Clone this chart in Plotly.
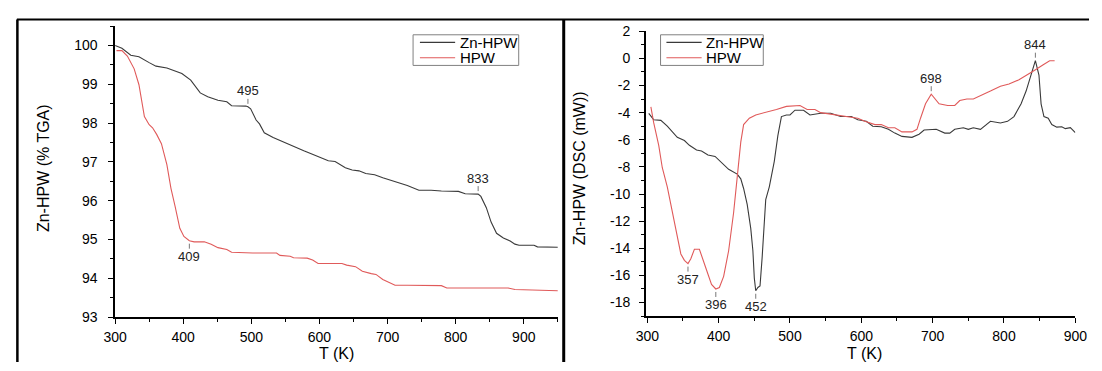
import numpy as np
import plotly.graph_objects as go

W, H = 1102, 371

series_names = ["Zn-HPW", "HPW"]
line_colors = ["#3a3a3a", "#e05a5a"]

# TGA curves: temperature (K) and residual mass (%)
tga_zn_T = [300, 310, 323, 335, 350, 360, 376, 391, 398, 411, 425, 436, 451, 464, 471,
            492, 495, 499, 507, 512, 519, 532, 552, 562, 577, 587, 603, 613, 623, 638,
            648, 658, 668, 681, 693, 708, 729, 746, 764, 779, 804, 814, 833, 837, 845,
            852, 860, 870, 880, 887, 893, 915, 920, 950]
tga_zn_w = [100.0, 99.93, 99.75, 99.71, 99.56, 99.47, 99.42, 99.32, 99.28, 99.11, 98.78,
            98.68, 98.59, 98.55, 98.45, 98.44, 98.42, 98.37, 98.08, 97.98, 97.75, 97.63,
            97.47, 97.41, 97.29, 97.22, 97.11, 97.03, 97.01, 96.85, 96.79, 96.77, 96.70,
            96.67, 96.59, 96.51, 96.39, 96.27, 96.27, 96.25, 96.24, 96.18, 96.17, 96.11,
            95.82, 95.45, 95.16, 95.04, 94.96, 94.88, 94.85, 94.85, 94.81, 94.80]

tga_hpw_T = [302, 310, 318, 328, 335, 343, 350, 355, 361, 368, 376, 382, 388, 395, 401,
             409, 416, 431, 441, 451, 464, 471, 502, 537, 542, 557, 562, 582, 590, 598,
             633, 640, 653, 663, 676, 683, 693, 703, 711, 729, 779, 787, 877, 887, 905, 950]
tga_hpw_w = [99.87, 99.87, 99.73, 99.40, 98.99, 98.17, 97.96, 97.88, 97.71, 97.47, 96.93,
             96.32, 95.86, 95.29, 95.08, 94.97, 94.94, 94.94, 94.88, 94.79, 94.74, 94.67,
             94.65, 94.65, 94.59, 94.57, 94.53, 94.52, 94.47, 94.38, 94.38, 94.34, 94.30,
             94.18, 94.12, 94.10, 93.97, 93.89, 93.82, 93.82, 93.81, 93.75, 93.75, 93.71,
             93.70, 93.68]

# DSC curves: temperature (K) and heat flow (mW)
dsc_zn_T = [302, 309, 319, 328, 342, 352, 359, 369, 376, 385, 395, 404, 414, 426, 431,
            435, 440, 445, 448, 450, 452, 455, 458, 461, 466, 471, 478, 483, 488, 495,
            500, 507, 519, 528, 543, 557, 571, 586, 595, 607, 616, 628, 638, 647, 657,
            671, 681, 688, 698, 705, 717, 724, 731, 743, 750, 757, 767, 781, 795, 805,
            814, 824, 831, 838, 844, 849, 852, 856, 862, 867, 874, 881, 886, 893, 900]
dsc_zn_q = [-4.05, -4.53, -4.57, -5.0, -5.82, -6.06, -6.41, -6.76, -6.83, -7.12, -7.23,
            -7.71, -8.18, -8.53, -8.88, -9.59, -10.77, -12.53, -14.18, -16.2, -17.13,
            -16.89, -16.77, -14.65, -10.41, -9.47, -7.59, -5.70, -4.29, -4.17, -4.17,
            -3.82, -3.82, -4.17, -4.05, -4.05, -4.29, -4.29, -4.53, -4.64, -5.0, -5.04,
            -5.23, -5.51, -5.75, -5.82, -5.59, -5.28, -5.23, -5.23, -5.51, -5.51, -5.23,
            -5.11, -5.23, -5.11, -5.23, -4.64, -4.76, -4.64, -4.29, -3.35, -2.41, -1.23,
            -0.17, -1.23, -3.35, -4.29, -4.41, -4.88, -5.07, -5.04, -5.18, -5.11, -5.47]

dsc_hpw_T = [305, 309, 316, 321, 328, 335, 340, 347, 352, 357, 361, 366, 373, 378, 383,
             390, 396, 401, 407, 414, 421, 426, 431, 435, 443, 452, 466, 481, 495, 514,
             524, 535, 543, 562, 581, 595, 605, 619, 628, 638, 647, 657, 671, 678, 683,
             690, 698, 702, 709, 721, 731, 738, 748, 757, 767, 781, 795, 807, 821, 831,
             843, 855, 864, 871]
dsc_hpw_q = [-3.58, -4.76, -6.41, -8.06, -9.47, -11.36, -12.77, -14.42, -14.89, -15.13,
             -14.77, -14.07, -14.07, -14.77, -15.6, -16.66, -17.0, -16.89, -16.07, -14.18,
             -11.36, -8.77, -6.17, -4.88, -4.41, -4.17, -4.0, -3.77, -3.54, -3.47, -3.77,
             -3.77, -4.0, -4.17, -4.34, -4.41, -4.64, -4.88, -4.88, -5.11, -5.11, -5.42,
             -5.42, -5.23, -4.41, -3.35, -2.64, -2.88, -3.35, -3.47, -3.47, -3.11, -2.99,
             -2.99, -2.76, -2.41, -2.05, -1.89, -1.58, -1.23, -0.87, -0.47, -0.17, -0.17]

# Marked temperatures: (T, series index, label above the curve?)
tga_marks = [(495, 0, True), (833, 0, True), (409, 1, False)]
dsc_marks = [(357, 1, False), (396, 1, False), (452, 0, False), (698, 1, True), (844, 0, True)]

x_ticks = [300, 400, 500, 600, 700, 800, 900]
tga_ticks = [93, 94, 95, 96, 97, 98, 99, 100]
dsc_ticks = [2, 0, -2, -4, -6, -8, -10, -12, -14, -16, -18]

FONT = "Liberation Sans, Arial, sans-serif"


def px(x):
    return x / W


def py(y):
    return 1 - y / H


fig = go.Figure()

tga_series = [(tga_zn_T, tga_zn_w), (tga_hpw_T, tga_hpw_w)]
dsc_series = [(dsc_zn_T, dsc_zn_q), (dsc_hpw_T, dsc_hpw_q)]

for i, (t, v) in enumerate(tga_series):
    fig.add_trace(go.Scatter(x=t, y=v, mode="lines", name=series_names[i],
                             line=dict(color=line_colors[i], width=1.1),
                             xaxis="x", yaxis="y", showlegend=False))
for i, (t, v) in enumerate(dsc_series):
    fig.add_trace(go.Scatter(x=t, y=v, mode="lines", name=series_names[i],
                             line=dict(color=line_colors[i], width=1.1),
                             xaxis="x2", yaxis="y2", showlegend=False))

axis_common = dict(showline=True, linecolor="black", linewidth=1.6,
                   ticks="outside", ticklen=5, tickwidth=1.3, tickcolor="black",
                   showgrid=False, zeroline=False,
                   tickfont=dict(family=FONT, size=14, color="black"))


def minor(dt):
    return dict(ticks="outside", ticklen=3, tickwidth=1, tickcolor="black", dtick=dt)


fig.update_layout(
    width=W, height=H,
    margin=dict(l=0, r=0, t=0, b=0),
    paper_bgcolor="white", plot_bgcolor="white",
    showlegend=False,
    font=dict(family=FONT, size=14, color="black"),
    xaxis=dict(domain=[px(105.4), px(558)], range=[300, 950], anchor="y",
               tickmode="array", tickvals=x_ticks, ticklabelstandoff=1,
               minor=dict(minor(50), tick0=300), **axis_common),
    yaxis=dict(domain=[py(323), py(19)], range=[93, 100.5], anchor="x",
               tickmode="array", tickvals=tga_ticks, ticklabelstandoff=8,
               minor=dict(minor(0.5), tick0=93), **axis_common),
    xaxis2=dict(domain=[px(648), px(1087)], range=[298, 900], anchor="y2",
                tickmode="array", tickvals=x_ticks, ticklabelstandoff=1,
                minor=dict(minor(50), tick0=300), **axis_common),
    yaxis2=dict(domain=[py(322), py(24.3)], range=[-19, 2], anchor="x2",
                tickmode="array", tickvals=dsc_ticks, ticklabelstandoff=6,
                ticktext=[str(v) for v in dsc_ticks],
                minor=dict(minor(1), tick0=-19), **axis_common),
)

# Peak / onset temperature labels
for marks, series, xr, yr in [(tga_marks, tga_series, "x", "y"),
                              (dsc_marks, dsc_series, "x2", "y2")]:
    for T, s, above in marks:
        t, v = series[s]
        yv = float(np.interp(T, t, v))
        fig.add_annotation(x=T, y=yv, xref=xr, yref=yr, text=str(T),
                           showarrow=True, arrowhead=0, arrowwidth=0.8,
                           arrowcolor="#555555", ax=0, ay=-16 if above else 16,
                           standoff=3, borderpad=0,
                           font=dict(family=FONT, size=13, color="#222222"))

# Axis titles
titles = [
    ("Zn-HPW (% TGA)", 32, 167, -90),
    ("T (K)", 332, 361, 0),
    ("Zn-HPW (DSC (mW))", 580, 167, -90),
    ("T (K)", 871, 361, 0),
]
for text, x, y, ang in titles:
    fig.add_annotation(x=px(x), y=py(y), xref="paper", yref="paper", text=text,
                       showarrow=False, textangle=ang, xanchor="center", yanchor="middle",
                       borderpad=0, font=dict(family=FONT, size=16, color="black"))

# Legends drawn as boxed keys
for (bx0, bx1, lx0, lx1, tx) in [(410, 518, 417, 453, 456), (663, 768, 669, 705, 707)]:
    fig.add_shape(type="rect", xref="paper", yref="paper",
                  x0=px(bx0), x1=px(bx1), y0=py(60), y1=py(28),
                  line=dict(color="#808080", width=1), fillcolor="white")
    for i, ly in enumerate([36, 52]):
        fig.add_shape(type="line", xref="paper", yref="paper",
                      x0=px(lx0), x1=px(lx1), y0=py(ly), y1=py(ly),
                      line=dict(color=line_colors[i], width=1.2))
        fig.add_annotation(x=px(tx), y=py(ly), xref="paper", yref="paper",
                           text=series_names[i], showarrow=False,
                           xanchor="left", yanchor="middle",
                           font=dict(family=FONT, size=15, color="black"))

# Panel frame
for x0, y0, x1, y1, w in [(5, 12, 1101, 12, 2), (5.5, 12, 5.5, 370, 2.5),
                          (564, 12, 564, 370, 3)]:
    fig.add_shape(type="line", xref="paper", yref="paper",
                  x0=px(x0), y0=py(y0), x1=px(x1), y1=py(y1),
                  line=dict(color="black", width=w))

fig.write_html("out.html")
